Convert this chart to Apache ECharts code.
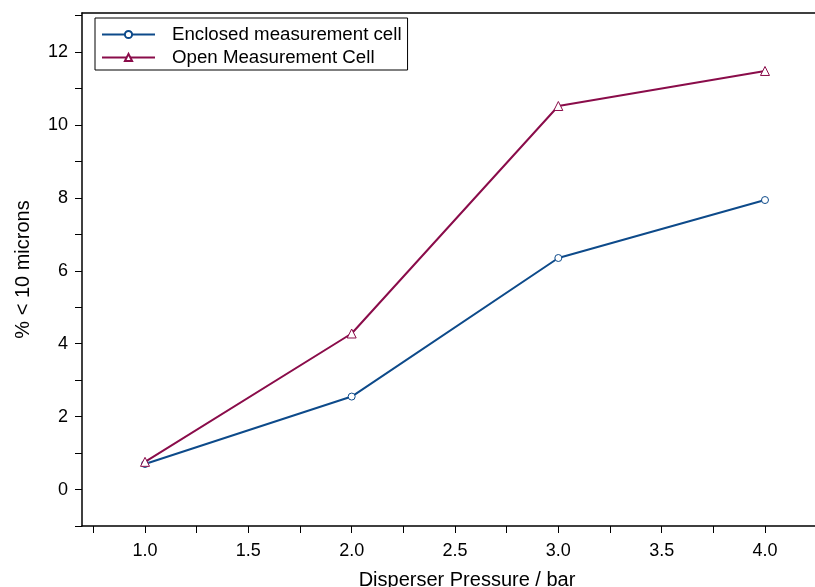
<!DOCTYPE html>
<html><head><meta charset="utf-8">
<script src="https://cdn.jsdelivr.net/npm/echarts@6/dist/echarts.min.js"></script>
<style>html,body{margin:0;padding:0;background:#fff;overflow:hidden}#c{width:815px;height:587px}</style>
</head><body><div id="c"></div>
<script>
var pressures = [1.0, 2.0, 3.0, 4.0];
var enclosed = [0.70, 2.55, 6.35, 7.94];
var openCell = [0.76, 4.28, 10.52, 11.48];
var xLabelValues = [1.0, 1.5, 2.0, 2.5, 3.0, 3.5, 4.0];
var xTickValues = [0.75, 1.0, 1.25, 1.5, 1.75, 2.0, 2.25, 2.5, 2.75, 3.0, 3.25, 3.5, 3.75, 4.0];
var yLabelValues = [0, 2, 4, 6, 8, 10, 12];
var yTickValues = [-1, 0, 1, 2, 3, 4, 5, 6, 7, 8, 9, 10, 11, 12, 13];

var blue = '#0d4a8a', maroon = '#8a0c4a';
var font = 'Liberation Sans, Arial, sans-serif';
var chart = echarts.init(document.getElementById('c'));
chart.setOption({
  animation: false,
  grid: {left: 82, right: 0, top: 13, bottom: 61, show: false, containLabel: false, outerBoundsMode: 'none'},
  legend: {
    orient: 'vertical', left: 95, top: 18, itemWidth: 53, itemHeight: 9, itemGap: 4,
    borderColor: '#000', borderWidth: 1, padding: [7, 6, 3, 6], backgroundColor: '#fff',
    textStyle: {fontFamily: font, fontSize: 18.7, color: '#000', padding: [0, 0, 0, 12]},
    data: ['Enclosed measurement cell', 'Open Measurement Cell']
  },
  xAxis: [{
    type: 'value', min: 0.695, max: 4.242,
    name: 'Disperser Pressure / bar', nameLocation: 'middle', nameGap: 44,
    nameTextStyle: {fontFamily: font, fontSize: 20, color: '#000', padding: [0, 0, 0, 37]},
    axisLine: {show: true, onZero: false, lineStyle: {color: '#000', width: 1.5}},
    axisTick: {show: true, length: 7, customValues: xTickValues, lineStyle: {color: '#000'}},
    axisLabel: {customValues: xLabelValues, margin: 16, fontFamily: font, fontSize: 18, color: '#000',
      formatter: function (v) { return v.toFixed(1); }},
    splitLine: {show: false}
  }, {
    type: 'value', position: 'top', min: 0.695, max: 4.242,
    axisLine: {show: true, onZero: false, lineStyle: {color: '#000', width: 1.5}},
    axisTick: {show: false}, axisLabel: {show: false}, splitLine: {show: false}
  }],
  yAxis: {
    type: 'value', min: -1, max: 13.07, interval: 1,
    name: '% < 10 microns', nameLocation: 'middle', nameGap: 49, nameRotate: 90,
    nameTextStyle: {fontFamily: font, fontSize: 20, color: '#000'},
    axisLine: {show: true, onZero: false, lineStyle: {color: '#000', width: 1.5}},
    axisTick: {show: true, length: 7, customValues: yTickValues, lineStyle: {color: '#000'}},
    axisLabel: {customValues: yLabelValues, margin: 14, fontFamily: font, fontSize: 18, color: '#000'},
    splitLine: {show: false}
  },
  series: [
    {name: 'Enclosed measurement cell', type: 'line',
     data: pressures.map(function (x, i) { return [x, enclosed[i]]; }),
     symbol: 'circle', symbolSize: 7, showAllSymbol: true,
     lineStyle: {color: blue, width: 2},
     itemStyle: {color: '#fff', borderColor: blue, borderWidth: 1}},
    {name: 'Open Measurement Cell', type: 'line',
     data: pressures.map(function (x, i) { return [x, openCell[i]]; }),
     symbol: 'triangle', symbolSize: 9, showAllSymbol: true,
     lineStyle: {color: maroon, width: 2},
     itemStyle: {color: '#fff', borderColor: maroon, borderWidth: 1}}
  ]
});
</script></body></html>
